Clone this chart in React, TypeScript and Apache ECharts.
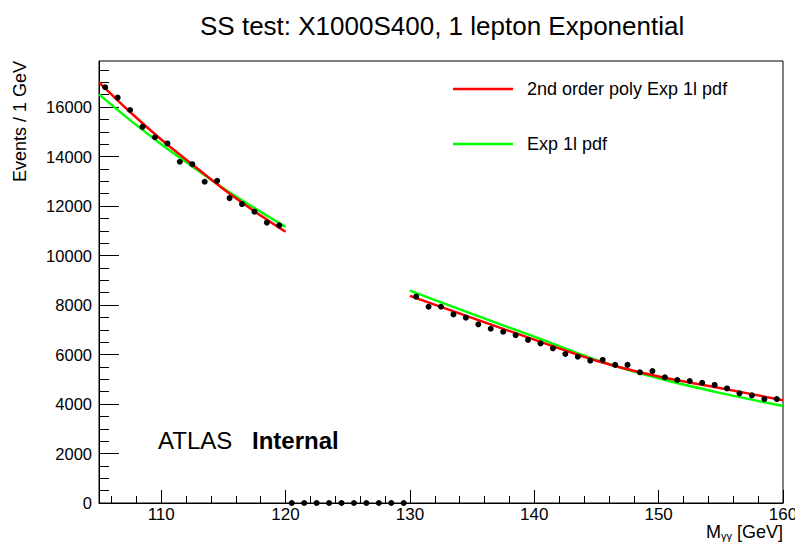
import React, { useEffect, useRef } from "react";
import * as echarts from "echarts";

const FONT = "'Liberation Sans', Arial, Helvetica, sans-serif";

// data points (bin centres, events / 1 GeV)
const xLeft = [105.5, 106.5, 107.5, 108.5, 109.5, 110.5, 111.5, 112.5, 113.5, 114.5, 115.5, 116.5, 117.5, 118.5, 119.5];
const yLeft = [16800, 16380, 15880, 15200, 14780, 14530, 13790, 13690, 12980, 13020, 12320, 12080, 11770, 11330, 11220];
const xBlind = [120.5, 121.5, 122.5, 123.5, 124.5, 125.5, 126.5, 127.5, 128.5, 129.5];
const yBlind = [0, 0, 0, 0, 0, 0, 0, 0, 0, 0];
const xRight = [130.5, 131.5, 132.5, 133.5, 134.5, 135.5, 136.5, 137.5, 138.5, 139.5, 140.5, 141.5, 142.5, 143.5, 144.5,
  145.5, 146.5, 147.5, 148.5, 149.5, 150.5, 151.5, 152.5, 153.5, 154.5, 155.5, 156.5, 157.5, 158.5, 159.5];
const yRight = [8340, 7930, 7930, 7620, 7490, 7220, 7040, 6920, 6780, 6590, 6450, 6250, 6020, 5910, 5750,
  5780, 5580, 5580, 5280, 5330, 5080, 4970, 4930, 4860, 4770, 4630, 4430, 4350, 4200, 4200];

// fitted curves
const fitXLeft = [105, 107.5, 110, 112.5, 115, 117.5, 120];
const redLeft = [17000, 15800, 14690, 13680, 12690, 11790, 10960];
const greenLeft = [16510, 15470, 14500, 13600, 12720, 11920, 11160];
const fitXRight = [130, 135, 140, 145, 150, 155, 160];
const redRight = [8370, 7480, 6600, 5750, 5110, 4640, 4150];
const greenRight = [8580, 7640, 6720, 5780, 5040, 4440, 3920];

// axes
const xMajor = [110, 120, 130, 140, 150, 160];
const xMinor = [106, 108, 112, 114, 116, 118, 122, 124, 126, 128, 132, 134, 136, 138, 142, 144, 146, 148, 152, 154, 156, 158];
const yMajor = [0, 2000, 4000, 6000, 8000, 10000, 12000, 14000, 16000];
const yMinor = [500, 1000, 1500, 2500, 3000, 3500, 4500, 5000, 5500, 6500, 7000, 7500, 8500, 9000, 9500,
  10500, 11000, 11500, 12500, 13000, 13500, 14500, 15000, 15500, 16500, 17000, 17500];

const titleText = "SS test: X1000S400, 1 lepton Exponential";
const legendRed = "2nd order poly Exp 1l pdf";
const legendGreen = "Exp 1l pdf";

const zip = (a: number[], b: number[]) => a.map((v, i) => [v, b[i]]);

export default function App() {
  const ref = useRef<HTMLDivElement>(null);
  useEffect(() => {
    document.body.style.margin = "0";
    const chart = echarts.init(ref.current!, null, { renderer: "svg" });
    const black = "#000";
    const lineSeries = (name: string, xs: number[], ys: number[], color: string) => ({
      name,
      type: "line",
      data: zip(xs, ys),
      smooth: 0.3,
      showSymbol: false,
      symbol: "none",
      lineStyle: { color, width: 2.5 },
      z: 3,
    });
    const dotSeries = (xs: number[], ys: number[]) => ({
      name: "data",
      type: "scatter",
      data: zip(xs, ys),
      symbol: "circle",
      symbolSize: 6,
      itemStyle: { color: black, opacity: 1 },
      clip: false,
      z: 4,
    });
    chart.setOption({
      animation: false,
      backgroundColor: "#fff",
      textStyle: { fontFamily: FONT },
      title: {
        text: titleText,
        left: 195,
        top: 8,
        textStyle: { fontFamily: FONT, fontSize: 26, fontWeight: "normal", color: black },
      },
      grid: {
        left: 99, top: 61, width: 684, height: 442,
        show: true, borderColor: black, borderWidth: 1, backgroundColor: "transparent",
        outerBoundsMode: "none", containLabel: false,
      },
      xAxis: [
        {
          type: "value", min: 105, max: 160, position: "bottom",
          axisLine: { show: true, lineStyle: { color: black, width: 1 } },
          axisTick: { show: true, inside: true, length: 13, customValues: xMajor, lineStyle: { color: black } },
          axisLabel: { customValues: xMajor, fontFamily: FONT, fontSize: 17, color: black, margin: 3, formatter: (v: number) => String(v) },
          splitLine: { show: false },
        },
        {
          type: "value", min: 105, max: 160, position: "bottom", offset: 0,
          axisLine: { show: false },
          axisTick: { show: true, inside: true, length: 7, customValues: xMinor, lineStyle: { color: black } },
          axisLabel: { show: false },
          splitLine: { show: false },
        },
      ],
      yAxis: [
        {
          type: "value", min: 0, max: 17860, position: "left",
          axisLine: { show: true, lineStyle: { color: black, width: 1 } },
          axisTick: { show: true, inside: true, length: 20, customValues: yMajor, lineStyle: { color: black } },
          axisLabel: { customValues: yMajor, fontFamily: FONT, fontSize: 16.5, color: black, margin: 7, formatter: (v: number) => String(v) },
          splitLine: { show: false },
        },
        {
          type: "value", min: 0, max: 17860, position: "left", offset: 0,
          axisLine: { show: false },
          axisTick: { show: true, inside: true, length: 10, customValues: yMinor, lineStyle: { color: black } },
          axisLabel: { show: false },
          splitLine: { show: false },
        },
      ],
      series: [
        lineSeries(legendGreen, fitXLeft, greenLeft, "#00ff00"),
        lineSeries(legendGreen, fitXRight, greenRight, "#00ff00"),
        lineSeries(legendRed, fitXLeft, redLeft, "#ff0000"),
        lineSeries(legendRed, fitXRight, redRight, "#ff0000"),
        dotSeries(xLeft, yLeft),
        dotSeries(xBlind, yBlind),
        dotSeries(xRight, yRight),
      ],
      graphic: [
        { type: "line", shape: { x1: 453, y1: 89, x2: 513, y2: 89 }, style: { stroke: "#ff0000", lineWidth: 2.5 } },
        { type: "text", x: 527, y: 89, style: { text: legendRed, font: `18px ${FONT}`, fill: black, verticalAlign: "middle", align: "left" } },
        { type: "line", shape: { x1: 453, y1: 144, x2: 513, y2: 144 }, style: { stroke: "#00ff00", lineWidth: 2.5 } },
        { type: "text", x: 527, y: 144, style: { text: legendGreen, font: `18px ${FONT}`, fill: black, verticalAlign: "middle", align: "left" } },
        { type: "text", x: 158, y: 440, style: { text: "ATLAS", font: `24px ${FONT}`, fill: black, verticalAlign: "middle", align: "left" } },
        { type: "text", x: 252, y: 440, style: { text: "Internal", font: `bold 24px ${FONT}`, fill: black, verticalAlign: "middle", align: "left" } },
        {
          type: "text", x: 20, y: 61, rotation: Math.PI / 2,
          style: { text: "Events / 1 GeV", font: `18px ${FONT}`, fill: black, verticalAlign: "middle", align: "right" },
        },
        {
          type: "text", x: 783, y: 541,
          style: {
            text: "{m|M}{s|γγ}{m| [GeV]}",
            align: "right", verticalAlign: "bottom",
            rich: {
              m: { fontFamily: FONT, fontSize: 18, fill: black, color: black, lineHeight: 18, verticalAlign: "bottom" },
              s: { fontFamily: FONT, fontSize: 11, fill: black, color: black, lineHeight: 18, verticalAlign: "bottom", padding: [8, 0, 0, 0] },
            },
          },
        },
      ],
    });
    return () => chart.dispose();
  }, []);
  return <div ref={ref} style={{ width: 795, height: 542 }} />;
}
